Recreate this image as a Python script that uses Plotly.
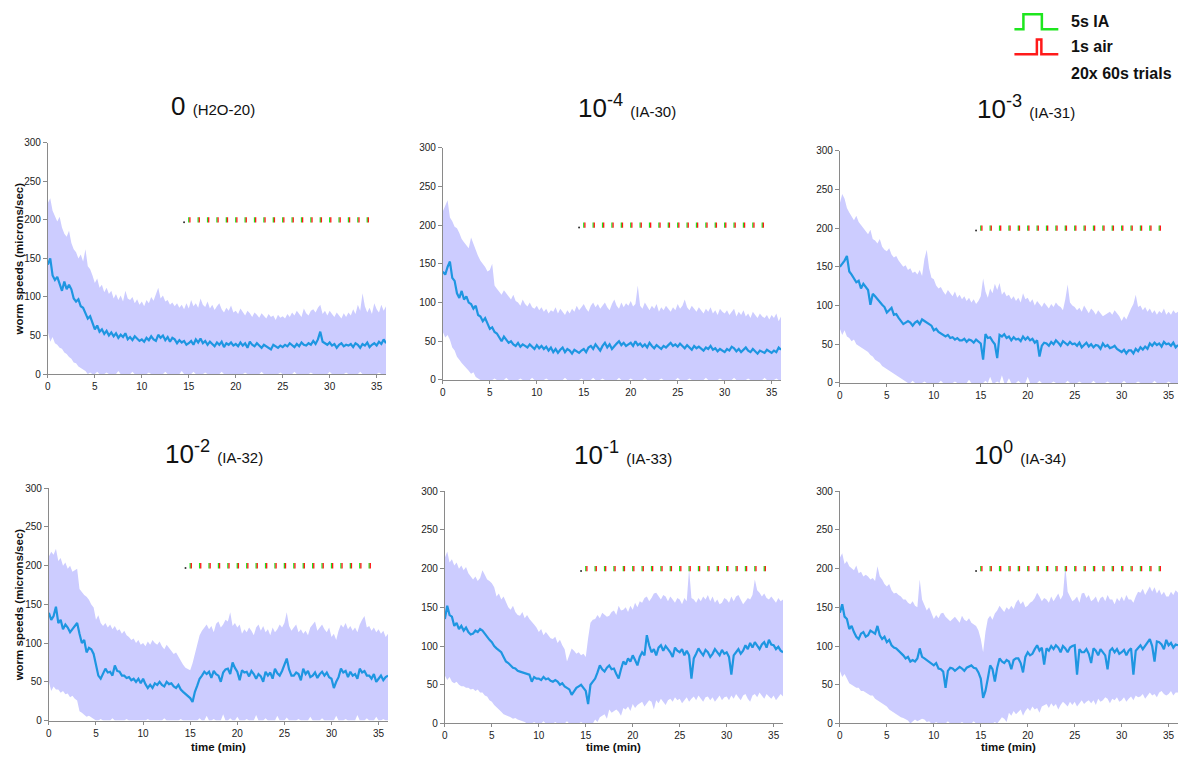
import plotly.graph_objects as go

FIG_W, FIG_H = 1184, 759
SAMPLE_MIN = 0.25  # minutes between samples

# ---------------- worm speed traces (microns/sec), one sample every 0.25 min ----------------
# H2O-20
M1 = [142,150,128,122,126,118,108,120,110,116,110,98,94,97,88,86,80,72,75,66,
      58,63,55,58,52,56,50,54,49,53,47,51,48,53,45,48,44,49,46,43,
      45,42,47,44,49,45,43,51,47,50,44,48,42,47,45,40,44,41,43,38,
      40,43,38,45,41,46,40,43,38,42,39,36,41,38,42,35,40,38,41,37,
      39,36,41,37,40,34,42,38,36,40,37,34,38,36,35,32,38,36,34,37,
      35,38,36,40,37,35,39,36,41,38,37,40,38,43,39,45,55,42,40,38,
      41,37,39,34,38,40,36,38,37,39,35,40,38,34,39,37,41,35,38,40,
      37,42,39,45,40]
U1 = [222,228,212,205,198,204,190,182,178,186,170,162,158,150,155,146,162,140,136,128,
      118,124,112,116,106,112,104,108,98,104,96,102,94,108,98,96,100,92,97,90,
      94,88,96,92,100,95,104,112,98,102,94,96,90,93,88,92,86,90,84,92,
      85,96,88,92,86,98,90,87,94,85,90,83,88,92,84,80,86,82,89,80,
      82,78,85,80,76,82,79,74,80,77,73,79,75,72,78,74,76,70,77,73,
      75,72,78,74,80,76,82,78,74,85,79,76,82,84,80,86,90,78,82,76,
      82,78,74,80,76,72,79,74,80,76,84,78,90,82,105,88,80,86,78,92,
      84,80,90,82,88]
L1 = [55,42,48,40,38,34,33,28,26,22,20,15,14,10,8,6,4,0,2,0,
      0,3,0,0,0,2,0,0,0,0,4,0,0,0,0,0,3,0,0,0,
      0,0,0,2,0,0,0,0,0,0,3,0,0,0,0,0,0,4,0,0,
      0,0,3,0,0,0,0,2,0,0,0,0,0,0,3,0,0,0,0,0,
      0,0,0,0,2,0,0,0,0,0,0,3,0,0,0,0,0,0,0,2,
      0,0,0,0,0,3,0,0,0,0,0,0,2,0,0,0,0,0,0,0,
      3,0,0,0,0,0,0,2,0,0,0,0,0,3,0,0,0,0,0,0,
      0,2,0,0,0]

# IA-30
M2 = [140,136,146,153,132,128,112,106,115,104,108,100,98,92,96,84,82,76,80,72,
      66,68,62,60,54,50,56,52,48,50,46,44,48,43,46,44,42,46,43,40,
      45,41,44,40,43,38,42,36,40,35,39,42,36,40,38,34,39,37,35,38,
      40,36,42,44,40,46,42,38,44,48,42,46,40,44,47,50,45,48,44,46,
      48,44,50,45,47,43,46,42,48,44,41,45,43,40,44,42,45,48,44,46,
      43,47,44,41,45,42,39,44,41,43,40,38,42,40,44,39,41,37,40,38,
      36,40,38,43,41,37,40,36,39,42,38,36,40,37,34,38,36,35,39,37,
      35,38,36,42,39]
U2 = [218,224,232,210,205,198,196,190,182,178,174,170,184,176,166,160,154,150,146,140,
      142,150,122,118,114,110,116,112,108,104,110,102,100,96,104,98,95,100,94,92,
      96,90,94,88,92,86,90,88,94,86,92,88,84,90,86,92,88,96,90,94,
      98,92,88,96,100,94,98,92,96,100,94,90,98,104,96,92,100,94,99,96,
      102,95,98,122,96,92,100,94,90,96,92,98,88,94,90,96,92,88,94,90,
      98,92,96,104,94,90,96,92,88,94,90,86,92,88,94,86,90,84,92,88,
      86,90,84,88,92,82,88,84,90,82,86,80,88,84,80,86,82,80,84,78,
      84,80,86,76,82]
L2 = [62,55,58,52,42,38,30,26,22,18,15,12,8,10,4,2,0,0,0,0,
      0,0,2,0,0,0,0,3,0,0,0,0,0,2,0,0,0,0,3,0,
      0,0,0,0,2,0,0,0,0,0,0,0,3,0,0,0,0,0,0,2,
      0,0,0,0,3,0,0,0,2,0,0,0,0,0,0,3,0,0,0,0,
      2,0,0,0,0,0,3,0,0,0,0,0,0,2,0,0,0,0,0,0,
      3,0,0,0,0,2,0,0,0,0,0,0,3,0,0,0,0,0,2,0,
      0,0,0,0,3,0,0,0,0,0,2,0,0,0,0,0,0,3,0,0,
      0,0,2,0,0]

# IA-31
M3 = [150,154,158,164,144,140,134,130,132,122,128,124,120,101,115,112,108,104,101,98,
      91,94,97,88,89,84,80,76,78,80,78,74,78,80,76,82,80,78,76,74,
      68,70,66,64,63,60,62,58,59,56,58,55,55,57,53,56,55,52,56,54,
      51,30,63,58,59,54,50,32,62,60,63,58,60,55,59,56,57,54,60,56,
      59,55,57,52,55,34,48,52,51,48,53,50,55,52,48,54,51,49,53,50,
      51,48,52,46,49,52,47,50,46,49,48,44,51,47,49,45,46,48,44,42,
      40,43,38,42,42,38,44,41,46,43,47,44,51,48,52,49,51,47,53,50,
      51,48,52,46,49]
U3 = [232,244,238,226,220,214,210,216,208,204,200,196,192,198,186,184,180,186,176,172,
      170,174,166,162,164,158,154,150,152,146,148,142,144,140,146,138,160,172,148,136,
      134,126,122,124,118,114,120,116,112,118,110,114,108,112,106,110,104,108,102,106,
      112,135,118,110,122,116,128,120,129,114,118,112,114,108,112,106,110,104,116,108,
      110,104,108,100,106,102,98,104,100,96,102,98,104,100,98,94,108,127,104,100,
      98,94,97,92,100,94,90,96,93,88,94,90,86,88,90,92,88,94,90,86,
      80,86,82,90,96,102,114,98,100,94,98,92,96,90,94,88,93,90,96,88,
      92,88,94,90,92]
L3 = [70,62,68,60,58,54,56,50,48,46,44,42,40,36,34,30,28,26,22,20,
      18,16,14,12,10,8,6,5,2,0,0,3,0,0,0,0,2,0,0,0,
      0,0,0,3,0,0,0,0,0,2,0,0,0,0,0,4,0,0,0,0,
      0,0,3,0,8,0,0,2,0,10,0,0,6,0,0,0,3,0,0,0,
      8,0,0,0,0,3,0,0,0,0,0,2,0,0,0,0,0,3,0,0,
      0,0,2,0,0,0,0,0,3,0,0,0,0,0,2,0,0,0,0,0,
      0,3,0,0,0,0,0,2,0,0,0,0,0,0,3,0,0,0,0,0,
      2,0,0,0,0]

# IA-32
M4 = [139,130,135,147,126,130,118,124,120,114,118,122,126,112,100,104,88,94,92,86,
      71,58,54,60,67,62,63,58,71,64,63,58,58,55,56,52,54,50,54,48,
      54,47,42,46,42,48,46,50,46,44,50,47,48,44,42,46,40,37,34,31,
      29,24,37,45,54,58,63,60,63,55,64,60,58,50,62,66,67,60,75,68,
      63,52,65,62,63,57,64,60,54,60,57,50,63,58,62,54,67,61,58,64,
      71,80,66,58,58,62,60,52,67,60,64,56,58,62,55,60,63,58,62,56,
      54,42,50,56,67,62,64,56,63,58,60,54,67,62,64,58,58,54,60,50,
      54,58,52,56,58]
U4 = [212,218,214,222,206,210,200,204,196,200,192,194,196,170,166,162,160,156,150,146,
      130,136,126,122,126,120,124,118,122,116,118,112,116,110,108,104,106,100,104,98,
      100,96,102,98,104,100,98,102,96,92,98,94,90,86,88,82,76,72,68,66,
      65,74,86,98,110,116,120,124,118,122,114,125,128,120,124,130,128,140,122,126,
      120,124,112,118,114,120,116,110,120,124,116,122,114,118,110,120,114,118,124,120,
      126,140,122,116,120,124,114,118,112,116,110,120,124,128,116,120,124,118,114,120,
      108,112,104,116,124,120,126,118,122,116,120,114,124,130,135,120,122,116,120,114,
      118,112,116,108,112]
L4 = [50,38,44,40,40,36,38,34,35,30,32,28,26,12,10,8,5,6,3,2,
      0,0,2,0,0,0,0,3,0,0,0,0,0,2,0,0,0,0,0,0,
      0,0,2,0,0,0,0,0,0,3,0,0,0,0,0,0,2,0,0,0,
      0,0,0,0,3,0,0,6,0,0,2,0,0,0,8,0,0,3,0,0,
      5,0,0,0,2,0,0,0,7,0,0,0,3,0,0,0,0,6,0,0,
      0,4,0,0,0,0,2,0,0,0,0,5,0,0,0,0,3,0,0,0,
      0,0,6,0,0,0,2,0,0,0,0,7,0,0,0,3,0,0,0,5,
      0,0,2,0,0]

# IA-33
M5 = [135,152,140,138,126,130,122,126,120,124,118,115,116,120,118,122,120,116,111,108,
      105,100,97,94,92,86,80,78,75,72,71,68,67,66,65,63,63,54,60,58,
      58,56,60,57,58,55,54,56,54,50,52,48,46,44,37,42,46,48,50,46,
      42,25,50,54,58,66,75,70,67,72,75,70,71,64,58,70,80,76,84,80,
      88,82,75,86,92,88,114,101,92,96,88,98,101,94,100,96,92,86,98,94,
      92,96,88,94,88,58,84,90,97,92,88,95,92,86,90,96,92,88,95,90,
      92,86,63,88,92,96,90,94,101,96,104,98,105,100,96,102,105,98,108,102,
      101,96,99,94,92]
U5 = [214,222,208,212,204,208,200,204,198,202,194,190,186,190,184,188,198,192,186,184,
      181,176,164,168,160,164,156,150,147,152,144,140,139,144,136,140,135,132,128,124,
      118,122,114,118,114,110,109,112,104,108,101,96,80,90,97,94,90,92,88,90,
      86,110,130,134,135,140,136,143,140,138,139,144,146,140,152,146,147,150,144,152,
      147,156,150,158,156,162,164,158,162,168,169,164,160,166,164,158,164,160,156,162,
      160,154,162,158,200,162,160,156,162,158,164,160,166,158,164,156,160,154,156,162,
      160,156,164,158,164,166,160,154,158,162,160,166,186,172,169,164,168,162,160,164,
      160,156,162,158,160]
L5 = [62,56,60,54,52,54,50,48,48,46,46,44,45,42,44,40,40,36,35,30,
      28,24,20,18,15,12,10,9,8,6,7,5,5,3,2,0,0,0,2,0,
      0,0,3,0,0,0,0,2,0,0,0,0,3,0,0,0,0,0,2,0,
      0,0,0,0,5,2,8,10,12,6,18,14,16,18,15,10,20,18,22,16,
      25,20,24,26,28,22,26,30,28,18,30,26,32,28,24,30,32,28,34,30,
      32,26,30,34,28,32,35,30,36,32,28,34,35,30,34,28,32,36,30,34,
      35,30,36,32,38,34,30,36,38,32,28,36,38,34,40,36,32,38,35,32,
      36,30,34,38,35]

# IA-34
M6 = [143,154,138,135,122,126,118,112,109,116,118,112,114,120,118,116,126,114,109,112,
      105,108,101,98,97,94,92,88,84,86,80,82,80,84,97,86,84,82,80,78,
      75,78,71,70,67,46,68,72,71,68,70,73,71,68,72,74,75,72,71,66,
      58,33,42,58,75,70,54,72,84,80,78,82,80,70,82,84,84,78,66,86,
      92,88,90,96,101,94,98,76,97,94,100,96,101,98,92,100,97,92,98,100,
      101,63,96,92,92,96,90,78,97,94,88,96,92,88,70,94,97,92,96,90,
      92,95,88,94,97,63,94,98,101,96,100,104,109,100,80,106,105,102,96,108,
      101,104,98,102,101]
U6 = [214,220,206,210,203,200,198,204,194,196,190,192,190,186,188,184,203,190,186,180,
      177,180,172,168,169,166,164,160,160,156,154,158,152,150,186,160,152,146,150,142,
      135,140,136,142,143,138,135,132,135,138,134,130,139,134,132,136,130,128,126,120,
      109,92,118,135,139,134,142,146,152,148,144,150,147,152,148,156,160,154,158,150,
      152,156,158,162,169,164,158,162,160,156,164,158,164,168,160,166,203,170,164,158,
      160,164,156,168,169,162,166,158,160,164,156,162,164,158,166,160,160,154,162,158,
      164,158,166,160,160,156,164,170,169,174,166,172,177,170,176,168,173,166,170,164,
      164,170,166,172,169]
L6 = [68,60,64,58,52,50,48,46,46,42,42,40,38,36,36,32,30,28,26,24,
      22,18,16,14,12,10,8,7,6,4,0,2,5,3,4,6,5,2,3,0,
      0,2,0,0,0,0,3,0,0,0,0,0,2,0,0,0,0,3,0,0,
      0,0,0,0,0,0,2,0,4,8,6,2,14,10,16,12,15,18,10,16,
      20,16,22,18,20,14,22,24,25,20,26,22,25,18,24,28,25,22,28,24,
      28,22,26,30,25,28,30,26,30,24,32,28,30,34,32,26,32,30,34,28,
      30,34,28,32,35,30,36,34,35,38,32,36,40,36,38,34,40,42,38,36,
      38,42,36,40,40]

# stimulus protocol: 20 trials, one per minute
TRIAL_MIN = [15,16,17,18,19,20,21,22,23,24,25,26,27,28,29,30,31,32,33,34]
TRIAL_LEVEL = 200
PRE_MARK_MIN = 14.5

PANEL_MAIN = ["0", "10", "10", "10", "10", "10"]
PANEL_EXP = ["", "-4", "-3", "-2", "-1", "0"]
PANEL_TAG = ["(H2O-20)", "(IA-30)", "(IA-31)", "(IA-32)", "(IA-33)", "(IA-34)"]
MEANS = [M1, M2, M3, M4, M5, M6]
UPPERS = [U1, U2, U3, U4, U5, U6]
LOWERS = [L1, L2, L3, L4, L5, L6]

# ---------------- layout geometry (pixels) ----------------
AREAS = [(45, 384, 139, 374), (441, 780, 144, 380), (839, 1178, 147, 383),
         (46, 386, 490, 726), (443, 782, 493, 729), (839, 1178, 493, 729)]
TITLE_XY = [(211, 102), (626, 102), (1026, 103), (212, 454), (622, 455), (1020, 455)]

FONT = "Liberation Sans, Arial, sans-serif"
LINE_BLUE = "rgb(30,150,225)"
BAND = "rgb(204,204,255)"
GREEN = "#1ee61e"
RED = "#ff1a1a"
AXIS_GREY = "#8a8a8a"


def px(x):
    return x / FIG_W


def py(y):
    return 1 - y / FIG_H


fig = go.Figure()
layout = dict(width=FIG_W, height=FIG_H, margin=dict(l=0, r=0, t=0, b=0),
              paper_bgcolor="white", plot_bgcolor="white", showlegend=False,
              font=dict(family=FONT, color="#222"))
annotations = []
shapes = []

for i in range(6):
    sfx = "" if i == 0 else str(i + 1)
    xref, yref = "x" + sfx, "y" + sfx
    left, right, top, bottom = AREAS[i]
    mean, hi, lo = MEANS[i], UPPERS[i], LOWERS[i]
    t_mean = [k * SAMPLE_MIN for k in range(len(mean))]
    t_hi = [k * SAMPLE_MIN for k in range(len(hi))]
    t_lo = [k * SAMPLE_MIN for k in range(len(lo))]

    # spread band as a closed polygon
    fig.add_trace(go.Scatter(x=t_hi + t_lo[::-1], y=hi + lo[::-1], fill="toself",
                             fillcolor=BAND, line=dict(width=0), mode="lines",
                             hoverinfo="skip", xaxis=xref, yaxis=yref))
    fig.add_trace(go.Scatter(x=t_mean, y=mean, mode="lines",
                             line=dict(color=LINE_BLUE, width=2.2),
                             xaxis=xref, yaxis=yref))

    # stimulus marks
    gx, gy, rx, ry = [], [], [], []
    for k in TRIAL_MIN:
        gx += [k, k, None]
        gy += [TRIAL_LEVEL - 3.5, TRIAL_LEVEL + 3.5, None]
        rx += [k + 0.12, k + 0.12, None]
        ry += [TRIAL_LEVEL - 3.5, TRIAL_LEVEL + 3.5, None]
    fig.add_trace(go.Scatter(x=gx, y=gy, mode="lines", line=dict(color=GREEN, width=1.3),
                             xaxis=xref, yaxis=yref))
    fig.add_trace(go.Scatter(x=rx, y=ry, mode="lines", line=dict(color=RED, width=1.3),
                             xaxis=xref, yaxis=yref))
    fig.add_trace(go.Scatter(x=[PRE_MARK_MIN], y=[TRIAL_LEVEL - 3], mode="markers",
                             marker=dict(color="#333", size=2), xaxis=xref, yaxis=yref))

    axis_common = dict(showgrid=False, zeroline=False, showline=True, linecolor=AXIS_GREY,
                       linewidth=1, ticks="outside", ticklen=4, tickcolor=AXIS_GREY,
                       tickfont=dict(size=10, color="#222", family=FONT))
    layout["xaxis" + sfx] = dict(axis_common, domain=[px(left), px(right)], range=[0, 36],
                                 tick0=0, dtick=5, anchor=yref, ticklen=3)
    layout["yaxis" + sfx] = dict(axis_common, domain=[py(bottom), py(top)], range=[0, 300],
                                 tick0=0, dtick=50, anchor=xref)

    exp = f"<sup>{PANEL_EXP[i]}</sup>" if PANEL_EXP[i] else ""
    title = (f"{PANEL_MAIN[i]}{exp} "
             f"<span style='font-size:15px'>{PANEL_TAG[i]}</span>")
    tx, ty = TITLE_XY[i]
    annotations.append(dict(text=title, x=px(tx), y=py(ty), xref="paper", yref="paper",
                            xanchor="center", yanchor="middle", showarrow=False,
                            font=dict(size=26, color="#111", family=FONT)))

    if i in (0, 3):
        annotations.append(dict(text="<b>worm speeds (microns/sec)</b>", textangle=-90,
                                x=px(16), y=py((top + bottom) / 2), xref="paper", yref="paper",
                                xanchor="center", yanchor="middle", showarrow=False,
                                font=dict(size=11.5, color="#111", family=FONT)))
    if i >= 3:
        annotations.append(dict(text="<b>time (min)</b>", x=px((left + right) / 2), y=0,
                                xref="paper", yref="paper", xanchor="center", yanchor="bottom",
                                yshift=-1, borderpad=0, showarrow=False,
                                font=dict(size=11.5, color="#111", family=FONT)))

# stimulus key (top right)
def path(points):
    return "M " + " L ".join(f"{px(x):.5f},{py(y):.5f}" for x, y in points)


shapes.append(dict(type="path", xref="paper", yref="paper",
                   path=path([(1014, 23.5), (1023, 23.5), (1023, 8.5), (1041.5, 8.5),
                              (1041.5, 23.5), (1058, 23.5)]),
                   line=dict(color=GREEN, width=2.5)))
shapes.append(dict(type="path", xref="paper", yref="paper",
                   path=path([(1014, 49), (1036.5, 49), (1036.5, 34), (1041, 34),
                              (1041, 49), (1058, 49)]),
                   line=dict(color=RED, width=2.5)))
for label, yy in [("5s IA", 16), ("1s air", 41.5), ("20x 60s trials", 68.5)]:
    annotations.append(dict(text=f"<b>{label}</b>", x=px(1069), y=py(yy), xref="paper",
                            yref="paper", xanchor="left", yanchor="middle", showarrow=False,
                            font=dict(size=16, color="#111", family=FONT)))

layout["annotations"] = annotations
layout["shapes"] = shapes
fig.update_layout(**layout)
fig.write_html("out.html")
